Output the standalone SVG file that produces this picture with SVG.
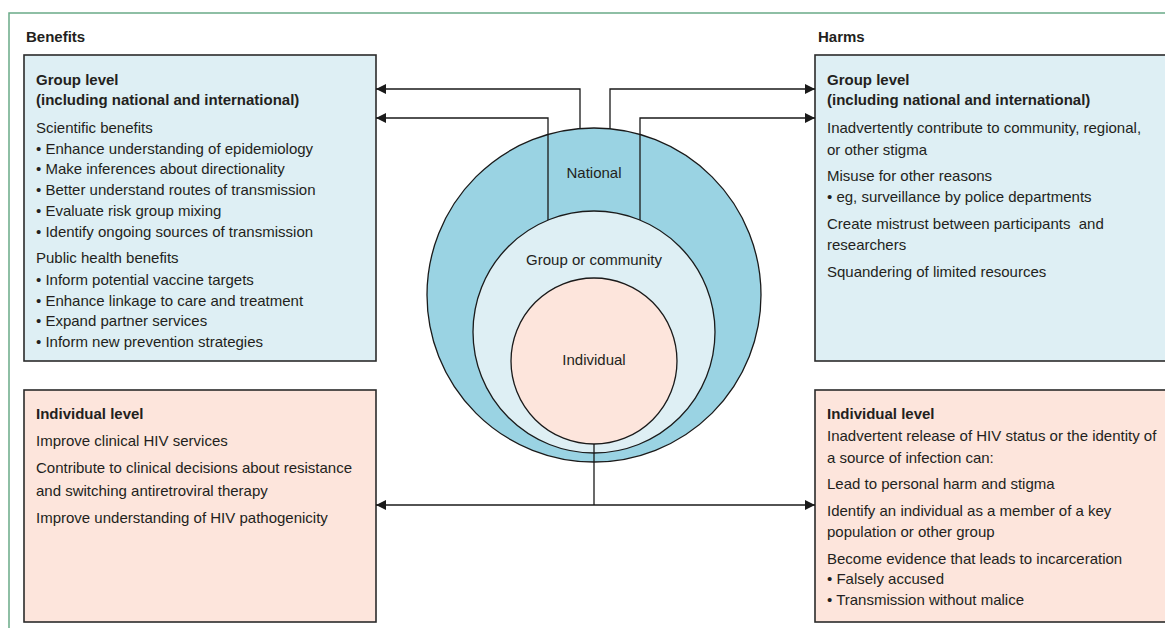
<svg xmlns="http://www.w3.org/2000/svg" width="1165" height="628" viewBox="0 0 1165 628">
<defs>
<style>
.t{font-family:"Liberation Sans",Arial,sans-serif;font-size:15px;fill:#231f20}
.b{font-weight:bold}
.c{text-anchor:middle}
.box{stroke:#2b2b2b;stroke-width:1.6}
.grp{fill:#deeff4}
.ind{fill:#fde5dc}
.ln{fill:none;stroke:#1a1a1a;stroke-width:1.3}
.circ{stroke:#1a1a1a;stroke-width:1.3}
</style>
<marker id="ah" viewBox="0 0 10 10" refX="10" refY="5" markerWidth="10" markerHeight="10" markerUnits="userSpaceOnUse" orient="auto-start-reverse">
<path d="M0,0 L10,5 L0,10 Z" fill="#1a1a1a"/>
</marker>
</defs>
<rect width="1165" height="628" fill="#ffffff"/>
<path d="M9,628 L9,13 L1165,13" fill="none" stroke="#6aaa88" stroke-width="1.5"/>
<text class="t b" x="26" y="42">Benefits</text>
<text class="t b" x="818" y="42">Harms</text>

<g id="benefits-group">
<rect class="box grp" x="24" y="55" width="352" height="306"/>
<text class="t b" x="36" y="85">Group level</text>
<text class="t b" x="36" y="105">(including national and international)</text>
<text class="t" x="36" y="133">Scientific benefits</text>
<text class="t" x="36" y="154">• Enhance understanding of epidemiology</text>
<text class="t" x="36" y="174">• Make inferences about directionality</text>
<text class="t" x="36" y="195">• Better understand routes of transmission</text>
<text class="t" x="36" y="216">• Evaluate risk group mixing</text>
<text class="t" x="36" y="237">• Identify ongoing sources of transmission</text>
<text class="t" x="36" y="263">Public health benefits</text>
<text class="t" x="36" y="285">• Inform potential vaccine targets</text>
<text class="t" x="36" y="306">• Enhance linkage to care and treatment</text>
<text class="t" x="36" y="326">• Expand partner services</text>
<text class="t" x="36" y="347">• Inform new prevention strategies</text>
</g>

<g id="benefits-individual">
<rect class="box ind" x="24" y="390" width="352" height="232"/>
<text class="t b" x="36" y="419">Individual level</text>
<text class="t" x="36" y="446">Improve clinical HIV services</text>
<text class="t" x="36" y="473">Contribute to clinical decisions about resistance</text>
<text class="t" x="36" y="496">and switching antiretroviral therapy</text>
<text class="t" x="36" y="523">Improve understanding of HIV pathogenicity</text>
</g>

<g id="harms-group">
<rect class="box grp" x="815" y="55" width="360" height="306"/>
<text class="t b" x="827" y="85">Group level</text>
<text class="t b" x="827" y="105">(including national and international)</text>
<text class="t" x="827" y="133">Inadvertently contribute to community, regional,</text>
<text class="t" x="827" y="155">or other stigma</text>
<text class="t" x="827" y="181">Misuse for other reasons</text>
<text class="t" x="827" y="202">• eg, surveillance by police departments</text>
<text class="t" x="827" y="229" xml:space="preserve">Create mistrust between participants  and</text>
<text class="t" x="827" y="250">researchers</text>
<text class="t" x="827" y="277">Squandering of limited resources</text>
</g>

<g id="harms-individual">
<rect class="box ind" x="815" y="390" width="360" height="232"/>
<text class="t b" x="827" y="419">Individual level</text>
<text class="t" x="827" y="441">Inadvertent release of HIV status or the identity of</text>
<text class="t" x="827" y="463">a source of infection can:</text>
<text class="t" x="827" y="489">Lead to personal harm and stigma</text>
<text class="t" x="827" y="516">Identify an individual as a member of a key</text>
<text class="t" x="827" y="537">population or other group</text>
<text class="t" x="827" y="564">Become evidence that leads to incarceration</text>
<text class="t" x="827" y="584">• Falsely accused</text>
<text class="t" x="827" y="605">• Transmission without malice</text>
</g>

<g id="national">
<circle class="circ" cx="594" cy="295" r="167" fill="#9ad3e3"/>
<text class="t c" x="594" y="178">National</text>
</g>
<g id="community">
<circle class="circ" cx="594" cy="332" r="121" fill="#deeff4"/>
<text class="t c" x="594" y="265">Group or community</text>
</g>
<g id="individual">
<circle class="circ" cx="594" cy="361" r="83" fill="#fde5dc"/>
<text class="t c" x="594" y="365">Individual</text>
</g>

<g id="connectors">
<path class="ln" d="M580,129 L580,89 L376,89" marker-end="url(#ah)"/>
<path class="ln" d="M548,220 L548,118 L376,118" marker-end="url(#ah)"/>
<path class="ln" d="M610,129 L610,89 L815,89" marker-end="url(#ah)"/>
<path class="ln" d="M640,220 L640,118 L815,118" marker-end="url(#ah)"/>
<path class="ln" d="M594,444 L594,505"/>
<path class="ln" d="M376,505 L815,505" marker-start="url(#ah)" marker-end="url(#ah)"/>
</g>
</svg>
